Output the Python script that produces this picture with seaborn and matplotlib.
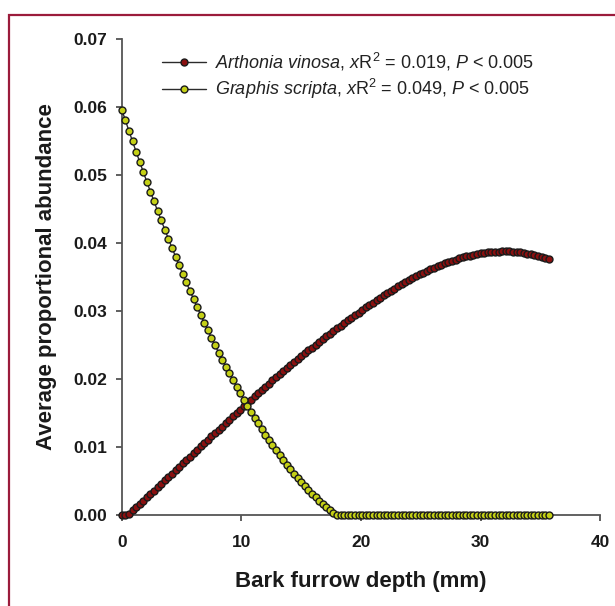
import numpy as np
import pandas as pd
import matplotlib
matplotlib.use("Agg")
import matplotlib.pyplot as plt
from matplotlib.patches import Rectangle
import seaborn as sns

# Fitted abundance along bark furrow depth (mm), evaluated every 0.3 mm
depth_mm = np.round(np.arange(120) * 0.3, 1)

arthonia = [
    0.0, 0.0, 0.0002, 0.0007, 0.0012, 0.0016, 0.0021, 0.0026, 0.0031, 0.0036,
    0.0041, 0.0046, 0.0051, 0.0056, 0.0061, 0.0066, 0.0071, 0.0076, 0.0081, 0.0086,
    0.0091, 0.0096, 0.0101, 0.0106, 0.0111, 0.0116, 0.0120, 0.0125, 0.0130, 0.0135,
    0.0140, 0.0145, 0.0150, 0.0155, 0.0160, 0.0165, 0.01698, 0.01746, 0.01794, 0.01841,
    0.01888, 0.01934, 0.01980, 0.02026, 0.02071, 0.02116, 0.02160, 0.02204, 0.02248, 0.02291,
    0.02334, 0.02376, 0.02419, 0.02460, 0.02502, 0.02543, 0.02584, 0.02625, 0.02665, 0.02705,
    0.02745, 0.02784, 0.02823, 0.02862, 0.02900, 0.02939, 0.02976, 0.03014, 0.03051, 0.03088,
    0.03124, 0.03159, 0.03194, 0.03228, 0.03262, 0.03295, 0.03328, 0.03360, 0.03391, 0.03422,
    0.03451, 0.03480, 0.03509, 0.03536, 0.03563, 0.03589, 0.03614, 0.03637, 0.03660, 0.03681,
    0.03701, 0.03721, 0.03739, 0.03756, 0.03772, 0.03787, 0.03801, 0.03814, 0.03825, 0.03836,
    0.03845, 0.03854, 0.03861, 0.03866, 0.03871, 0.03873, 0.03875, 0.03875, 0.03874, 0.03871,
    0.03867, 0.03861, 0.03853, 0.03844, 0.03833, 0.03822, 0.03810, 0.03797, 0.03783, 0.03768,
]

graphis = [
    0.05960, 0.05802, 0.05646, 0.05492, 0.05340, 0.05190, 0.05042, 0.04896, 0.04751, 0.04609,
    0.04469, 0.04331, 0.04195, 0.04060, 0.03928, 0.03798, 0.03669, 0.03543, 0.03419, 0.03296,
    0.03176, 0.03058, 0.02941, 0.02827, 0.02714, 0.02604, 0.02495, 0.02389, 0.02284, 0.02182,
    0.02081, 0.01982, 0.01886, 0.01791, 0.01698, 0.01608, 0.01519, 0.01432, 0.01348, 0.01265,
    0.01184, 0.01105, 0.01028, 0.00954, 0.00881, 0.00810, 0.00741, 0.00674, 0.00609, 0.00546,
    0.00485, 0.00426, 0.00369, 0.00314, 0.00261, 0.00210, 0.00161, 0.00114, 0.00068, 0.00025,
    0.0, 0.0, 0.0, 0.0, 0.0, 0.0, 0.0, 0.0, 0.0, 0.0,
    0.0, 0.0, 0.0, 0.0, 0.0, 0.0, 0.0, 0.0, 0.0, 0.0,
    0.0, 0.0, 0.0, 0.0, 0.0, 0.0, 0.0, 0.0, 0.0, 0.0,
    0.0, 0.0, 0.0, 0.0, 0.0, 0.0, 0.0, 0.0, 0.0, 0.0,
    0.0, 0.0, 0.0, 0.0, 0.0, 0.0, 0.0, 0.0, 0.0, 0.0,
    0.0, 0.0, 0.0, 0.0, 0.0, 0.0, 0.0, 0.0, 0.0, 0.0,
]

species_labels = [
    r"$\mathit{Arthonia\ vinosa}$, $\mathit{x}$R$^2$ = 0.019, $\mathit{P}$ < 0.005",
    r"$\mathit{Graphis\ scripta}$, $\mathit{x}$R$^2$ = 0.049, $\mathit{P}$ < 0.005",
]
face_colors = ["#8a1010", "#c4d016"]

x_ticks = [0, 10, 20, 30, 40]
y_ticks = [0.00, 0.01, 0.02, 0.03, 0.04, 0.05, 0.06, 0.07]

sns.set_theme(style="ticks")
plt.rcParams["font.family"] = ["Liberation Sans", "DejaVu Sans"]
plt.rcParams["mathtext.fontset"] = "custom"
plt.rcParams["mathtext.rm"] = "Liberation Sans"
plt.rcParams["mathtext.it"] = "Liberation Sans:italic"
plt.rcParams["mathtext.bf"] = "Liberation Sans:bold"

fig = plt.figure(figsize=(6.15, 6.06), dpi=100)
ax = fig.add_axes([0.198, 0.150, 0.778, 0.786])

frames = [
    pd.DataFrame({"depth": depth_mm, "abundance": vals, "species": lab})
    for vals, lab in zip([arthonia, graphis], species_labels)
]

for df, fc in zip(frames, face_colors):
    sns.lineplot(
        data=df, x="depth", y="abundance", ax=ax,
        estimator=None, sort=False,
        color="#2b2b2b", linewidth=1.0,
        marker="o", markersize=5.0, markerfacecolor=fc,
        markeredgecolor="#1a1a1a", markeredgewidth=1.0,
        label=df["species"].iloc[0], clip_on=False, zorder=4,
    )

ax.set_xlim(0, 40)
ax.set_ylim(0, 0.07)
ax.set_xticks(x_ticks)
ax.set_yticks(y_ticks)
ax.set_yticklabels([f"{v:.2f}" for v in y_ticks])
ax.tick_params(axis="both", direction="out", length=4.5, width=1.2,
               color="#444444", labelsize=12.5)
ax.tick_params(axis="y", pad=6)
ax.tick_params(axis="x", pad=10)
for lab in ax.get_xticklabels() + ax.get_yticklabels():
    lab.set_fontweight("bold")
    lab.set_color("#1a1a1a")

for side in ("left", "bottom"):
    ax.spines[side].set_color("#555555")
    ax.spines[side].set_linewidth(1.3)
sns.despine(ax=ax)

ax.set_xlabel("Bark furrow depth (mm)", fontsize=16, fontweight="bold",
              color="#1a1a1a", labelpad=15)
ax.set_ylabel("Average proportional abundance", fontsize=16, fontweight="bold",
              color="#1a1a1a", labelpad=12)

leg = ax.legend(loc="upper left", bbox_to_anchor=(0.07, 0.99), frameon=False,
                fontsize=13, handlelength=2.4, handletextpad=0.5,
                labelspacing=0.22, borderaxespad=0)
for t in leg.get_texts():
    t.set_color("#222222")

# Page frame around the figure panel
fig.patches.append(Rectangle((9 / 615, -0.1), 1.2, 1.1 - 15 / 606,
                             transform=fig.transFigure, fill=False,
                             edgecolor="#9b1b3b", linewidth=1.6,
                             clip_on=False))

fig.savefig("out.png", dpi=100, facecolor="white")
